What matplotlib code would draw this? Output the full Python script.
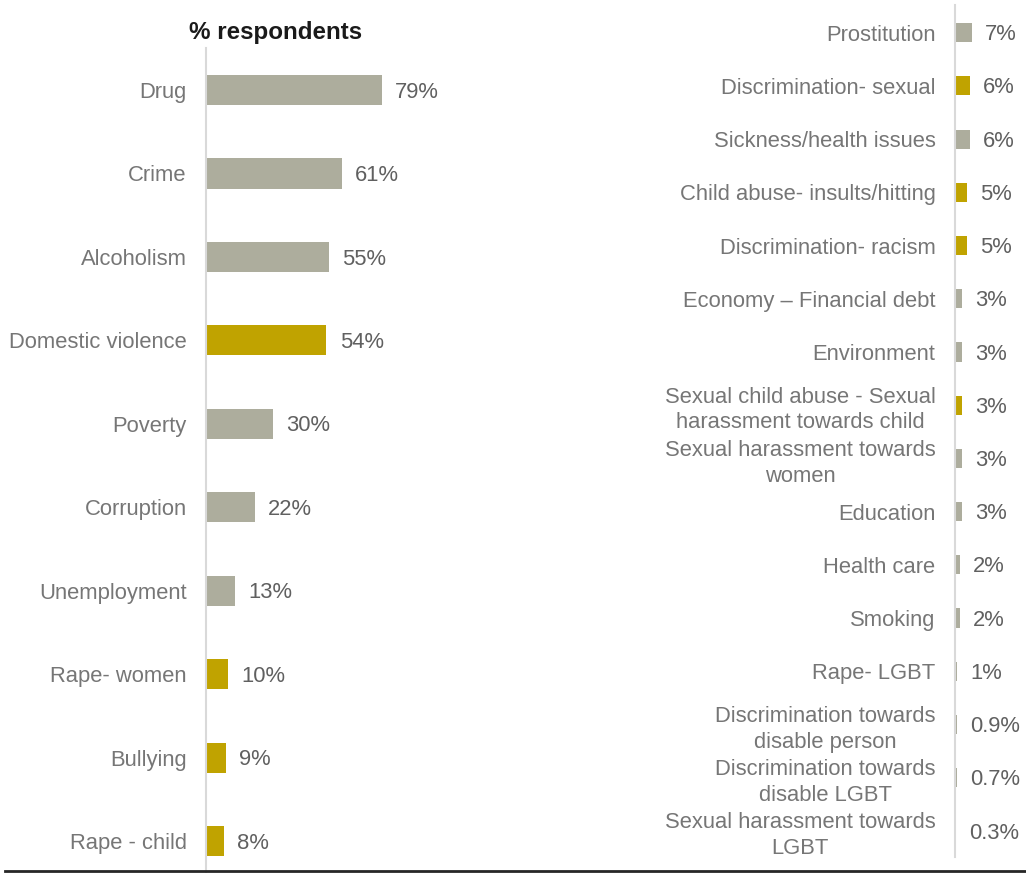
import matplotlib
matplotlib.use("Agg")
import matplotlib.pyplot as plt
from matplotlib.lines import Line2D

plt.rcParams['font.family'] = ['Liberation Sans', 'DejaVu Sans']

# Left panel: main issues
left_labels = ["Drug", "Crime", "Alcoholism", "Domestic violence", "Poverty",
               "Corruption", "Unemployment", "Rape- women", "Bullying", "Rape - child"]
left_values = [79, 61, 55, 54, 30, 22, 13, 10, 9, 8]
left_text = ["79%", "61%", "55%", "54%", "30%", "22%", "13%", "10%", "9%", "8%"]
left_highlight = [False, False, False, True, False, False, False, True, True, True]

# Right panel: less frequently cited issues
right_labels = ["Prostitution", "Discrimination- sexual", "Sickness/health issues",
                "Child abuse- insults/hitting", "Discrimination- racism",
                "Economy \u2013 Financial debt", "Environment",
                "Sexual child abuse - Sexual\nharassment towards child",
                "Sexual harassment towards\nwomen", "Education", "Health care",
                "Smoking", "Rape- LGBT", "Discrimination towards\ndisable person",
                "Discrimination towards\ndisable LGBT",
                "Sexual harassment towards\nLGBT"]
right_values = [7, 6, 6, 5, 5, 3, 3, 3, 3, 3, 2, 2, 1, 0.9, 0.7, 0.3]
right_text = ["7%", "6%", "6%", "5%", "5%", "3%", "3%", "3%", "3%", "3%", "2%",
              "2%", "1%", "0.9%", "0.7%", "0.3%"]
right_highlight = [False, True, False, True, True, False, False, True, False,
                   False, False, False, False, False, False, False]

title = "% respondents"

GREY = "#ADAD9D"
GOLD = "#C0A300"
LABEL_C = "#767676"
VALUE_C = "#606060"
SPINE_C = "#D9D9D9"

W, H = 1026, 873
fig = plt.figure(figsize=(W / 100, H / 100), dpi=100)


def fy(px):
    return 1 - px / H


def panel(rect, labels, values, texts, highlight, xmax, ylim, fs):
    ax = fig.add_axes(rect)
    ypos = list(range(len(labels)))
    colors = [GOLD if h else GREY for h in highlight]
    ax.barh(ypos, values, height=0.36, color=colors, edgecolor="none")
    for y, v, t in zip(ypos, values, texts):
        ax.annotate(t, (v, y), xytext=(9.5, -1.5), textcoords="offset points",
                    ha="left", va="center", fontsize=fs, color=VALUE_C)
    ax.set_yticks(ypos)
    ax.set_yticklabels(labels, fontsize=fs, color=LABEL_C)
    for lab in ax.get_yticklabels():
        lab.set_multialignment("center")
        lab.set_linespacing(1.3)
    ax.tick_params(axis="y", length=0, pad=14)
    ax.set_xticks([])
    ax.set_xlim(0, xmax)
    ax.set_ylim(*ylim)
    for s in ("top", "right", "bottom"):
        ax.spines[s].set_visible(False)
    ax.spines["left"].set_color(SPINE_C)
    ax.spines["left"].set_linewidth(1.5)
    ax.patch.set_alpha(0)
    return ax


# left panel: 2.23 px per percentage point
lw_px = 420
panel([206 / W, 0, lw_px / W, fy(48)], left_labels, left_values, left_text,
      left_highlight, lw_px / 2.23, (9.384, -0.504), 15.8)

# right panel: 2.45 px per percentage point
rw_px = 70
panel([955 / W, fy(857), rw_px / W, fy(5) - fy(857)], right_labels, right_values,
      right_text, right_highlight, rw_px / 2.45, (15.49, -0.52), 15.8)

fig.text(276 / W, fy(33), title, ha="center", va="center", fontsize=17.4,
         fontweight="bold", color="#1A1A1A")

fig.add_artist(Line2D([5 / W, 1], [fy(871), fy(871)], color="#262626", lw=2,
                      transform=fig.transFigure))

fig.savefig("out.png", dpi=100)
